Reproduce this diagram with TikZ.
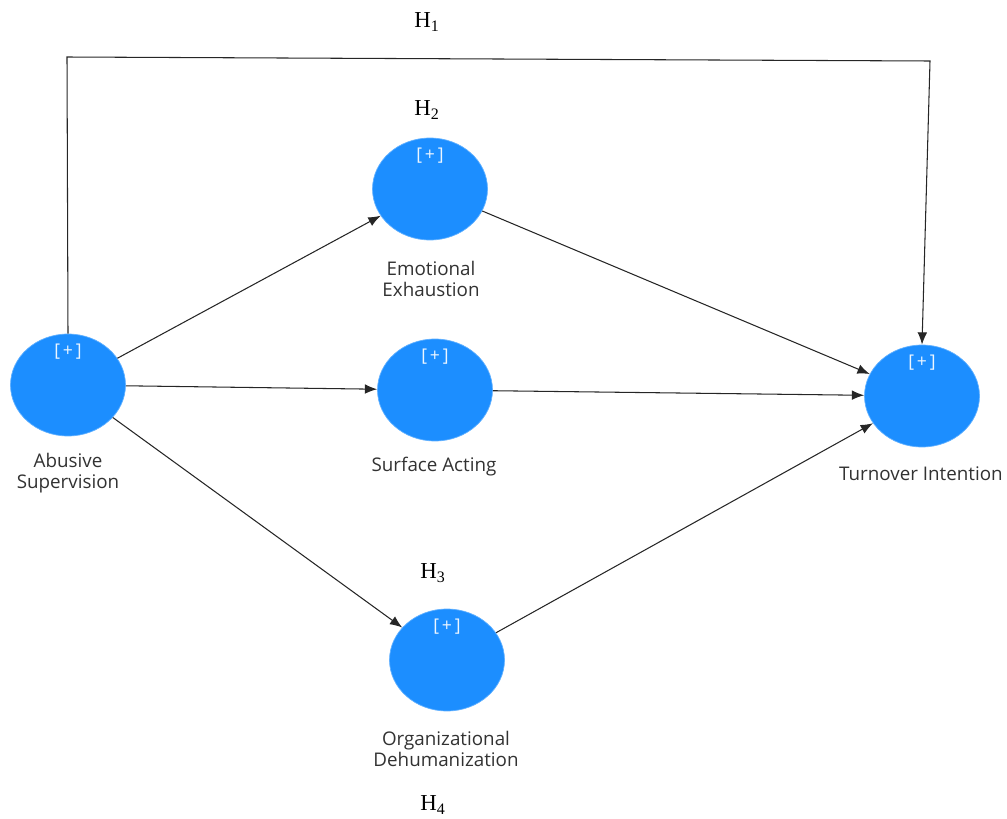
\documentclass[tikz,border=0pt]{standalone}
\usepackage{fontspec}
\usepackage{xcolor}
\usepackage{tikz}
\usetikzlibrary{arrows.meta,shapes.geometric}
\setmainfont{Liberation Serif}
\newfontfamily\labfont{Open Sans}
\definecolor{latent}{RGB}{28,142,255}
\definecolor{labgray}{RGB}{50,50,50}

\begin{document}
\begin{tikzpicture}[x=0.02cm, y=-0.02cm,
  latentvar/.style={ellipse, fill=latent, draw=latent!70!white, line width=0.4pt,
    minimum width=2.3cm, minimum height=2.04cm, inner sep=0pt},
  plus/.style={text=white!92!latent, font=\labfont\fontsize{10}{12}\selectfont, inner sep=0pt},
  varname/.style={text=labgray, font=\labfont\fontsize{10.7}{12.2}\selectfont, align=center, inner sep=0pt},
  hyp/.style={font=\fontsize{13}{15}\selectfont, inner sep=0pt},
  path/.style={draw=black!85, line width=0.6pt, -{Latex[length=7pt,width=5.5pt]}}]
\useasboundingbox (0,0) rectangle (1007,818);

% Latent variables
\node[latentvar] (abs) at (68,385) {};
\node[latentvar] (emo) at (430,189) {};
\node[latentvar] (sur) at (435,390) {};
\node[latentvar] (org) at (447,660) {};
\node[latentvar] (tur) at (922,396) {};

% [+] marks
\node[plus] (absplus) at (68,352) {[\,+\,]};
\node[plus] (emoplus) at (430,156) {[\,+\,]};
\node[plus] (surplus) at (435,357) {[\,+\,]};
\node[plus] (orgplus) at (447,627) {[\,+\,]};
\node[plus] (turplus) at (922,363) {[\,+\,]};

% Names
\node[varname] (absname) at (68,473) {Abusive\\Supervision};
\node[varname] (emoname) at (431,279) {Emotional\\Exhaustion};
\node[varname] (surname) at (434,467) {Surface Acting};
\node[varname] (orgname) at (446,749) {Organizational\\Dehumanization};
\node[varname, anchor=east] (turname) at (1003,474) {Turnover Intention};

% Hypotheses
\node[hyp] (h1) at (427,22) {H\textsubscript{1}};
\node[hyp] (h2) at (427,110) {H\textsubscript{2}};
\node[hyp] (h3) at (433,573) {H\textsubscript{3}};
\node[hyp] (h4) at (433,805) {H\textsubscript{4}};

% Direct path over the top
\coordinate (topleft) at (67,57);
\coordinate (topright) at (930,61);
\draw[path] (abs.north) -- (topleft) -- (topright) -- (tur.north);

% Paths through the mediators
\draw[path] (abs) -- (emo);
\draw[path] (abs) -- (sur);
\draw[path] (abs) -- (org);
\draw[path] (emo) -- (tur);
\draw[path] (sur) -- (tur);
\draw[path] (org) -- (tur);

\end{tikzpicture}
\end{document}
